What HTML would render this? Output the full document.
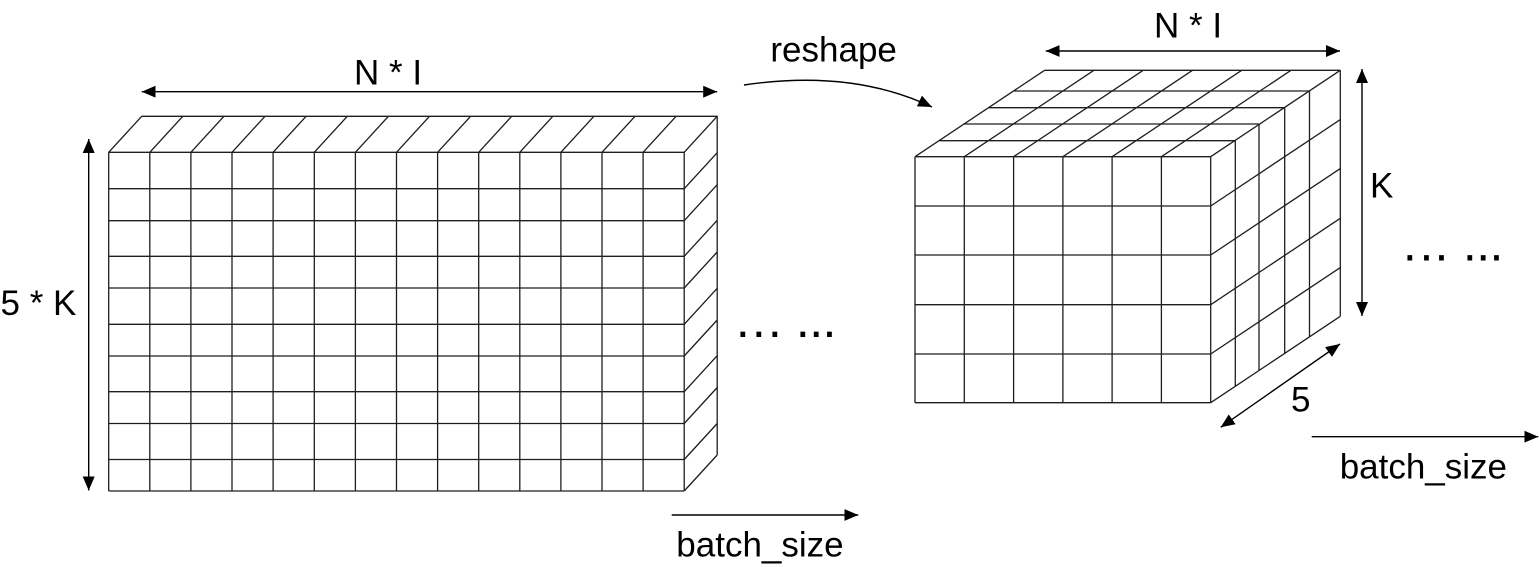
<!DOCTYPE html>
<html>
<head>
<meta charset="utf-8">
<style>
html,body{margin:0;padding:0;background:#fff;}
svg{display:block;}
text{font-family:"Liberation Sans",Arial,sans-serif;fill:#000;}
</style>
</head>
<body>
<svg width="1539" height="567" viewBox="0 0 1539 567" xmlns="http://www.w3.org/2000/svg">
<defs>
<marker id="a" markerUnits="userSpaceOnUse" markerWidth="14" markerHeight="12" refX="14" refY="6" orient="auto-start-reverse" viewBox="0 0 14 12">
<path d="M0,0L14,6L0,12z" fill="#000"/>
</marker>
</defs>

<!-- LEFT BLOCK -->
<g fill="none" stroke="#1e1e1e" stroke-width="1.3">
<!-- front verticals -->
<path d="M108.7,152.3V491M149.8,152.3V491M190.9,152.3V491M232,152.3V491M273.1,152.3V491M314.3,152.3V491M355.4,152.3V491M396.5,152.3V491M437.6,152.3V491M478.7,152.3V491M519.8,152.3V491M560.9,152.3V491M602,152.3V491M643.1,152.3V491M684.2,152.3V491"/>
<!-- front horizontals -->
<path d="M108.7,152.3H684.2M108.7,188.7H684.2M108.7,220.7H684.2M108.7,256.3H684.2M108.7,288H684.2M108.7,324.3H684.2M108.7,356H684.2M108.7,391.7H684.2M108.7,423.5H684.2M108.7,459.5H684.2M108.7,491H684.2"/>
<!-- top diagonals -->
<path d="M108.7,152.3l33,-36M149.8,152.3l33,-36M190.9,152.3l33,-36M232,152.3l33,-36M273.1,152.3l33,-36M314.3,152.3l33,-36M355.4,152.3l33,-36M396.5,152.3l33,-36M437.6,152.3l33,-36M478.7,152.3l33,-36M519.8,152.3l33,-36M560.9,152.3l33,-36M602,152.3l33,-36M643.1,152.3l33,-36M684.2,152.3l33,-36"/>
<path d="M141.7,116.3H717.2V455"/>
<!-- right side diagonals -->
<path d="M684.2,188.7l33,-36M684.2,220.7l33,-36M684.2,256.3l33,-36M684.2,288l33,-36M684.2,324.3l33,-36M684.2,356l33,-36M684.2,391.7l33,-36M684.2,423.5l33,-36M684.2,459.5l33,-36M684.2,491l33,-36"/>
</g>

<!-- RIGHT CUBE -->
<g fill="none" stroke="#1e1e1e" stroke-width="1.3">
<!-- front verticals -->
<path d="M915,156.7V402.7M964.3,156.7V402.7M1013.6,156.7V402.7M1062.9,156.7V402.7M1112.1,156.7V402.7M1161.4,156.7V402.7M1210.7,156.7V402.7"/>
<!-- front horizontals -->
<path d="M915,156.7H1210.7M915,206H1210.7M915,255H1210.7M915,304.7H1210.7M915,354H1210.7M915,402.7H1210.7"/>
<!-- top column diagonals -->
<path d="M915,156.7l129.6,-86.4M964.3,156.7l129.6,-86.4M1013.6,156.7l129.6,-86.4M1062.9,156.7l129.6,-86.4M1112.1,156.7l129.6,-86.4M1161.4,156.7l129.6,-86.4M1210.7,156.7l129.6,-86.4"/>
<!-- top layer lines -->
<path d="M939.6,140.7H1235.3M963.3,124H1259M989,107.7H1284.7M1013.8,91H1309.5M1044.6,70.3H1340.3"/>
<!-- right row diagonals -->
<path d="M1210.7,206l129.6,-86.4M1210.7,255l129.6,-86.4M1210.7,304.7l129.6,-86.4M1210.7,354l129.6,-86.4M1210.7,402.7l129.6,-86.4"/>
<!-- right layer verticals -->
<path d="M1235.3,140.7V386.7M1259,124V370M1284.7,107.7V353.7M1309.5,91V337M1340.3,70.3V316.3"/>
</g>

<!-- ARROWS -->
<g fill="none" stroke="#000" stroke-width="1.4">
<line x1="141.7" y1="91.7" x2="717.2" y2="91.7" marker-start="url(#a)" marker-end="url(#a)"/>
<line x1="88.7" y1="139" x2="88.7" y2="490.5" marker-start="url(#a)" marker-end="url(#a)"/>
<line x1="671.7" y1="515" x2="858.3" y2="515" marker-end="url(#a)"/>
<path d="M744,85Q852,69 932,107" marker-end="url(#a)"/>
<line x1="1045.7" y1="51" x2="1340" y2="51" marker-start="url(#a)" marker-end="url(#a)"/>
<line x1="1362" y1="69" x2="1362" y2="316" marker-start="url(#a)" marker-end="url(#a)"/>
<line x1="1220.7" y1="427.3" x2="1340" y2="344" marker-start="url(#a)" marker-end="url(#a)"/>
<line x1="1311.7" y1="436.7" x2="1538.3" y2="436.7" marker-end="url(#a)"/>
</g>

<!-- LABELS -->
<g font-size="35">
<text x="354" y="84.3" xml:space="preserve">N * I</text>
<text x="0.5" y="315" xml:space="preserve">5 * K</text>
<text x="676.3" y="556.7">batch_size</text>
<text x="770.4" y="61.7">reshape</text>
<text x="1154" y="37.3" xml:space="preserve">N * I</text>
<text x="1370" y="197.7">K</text>
<text x="1291" y="411.7">5</text>
<text x="1339.7" y="478.4">batch_size</text>
</g>

<!-- DOTS -->
<g font-size="50">
<text x="735.9 751.9 767.9 795.9 809.2 822.5" y="337">......</text>
<text x="1402.9 1419.5 1434.5 1462.9 1476.2 1489.5" y="260.7">......</text>
</g>
</svg>
</body>
</html>
